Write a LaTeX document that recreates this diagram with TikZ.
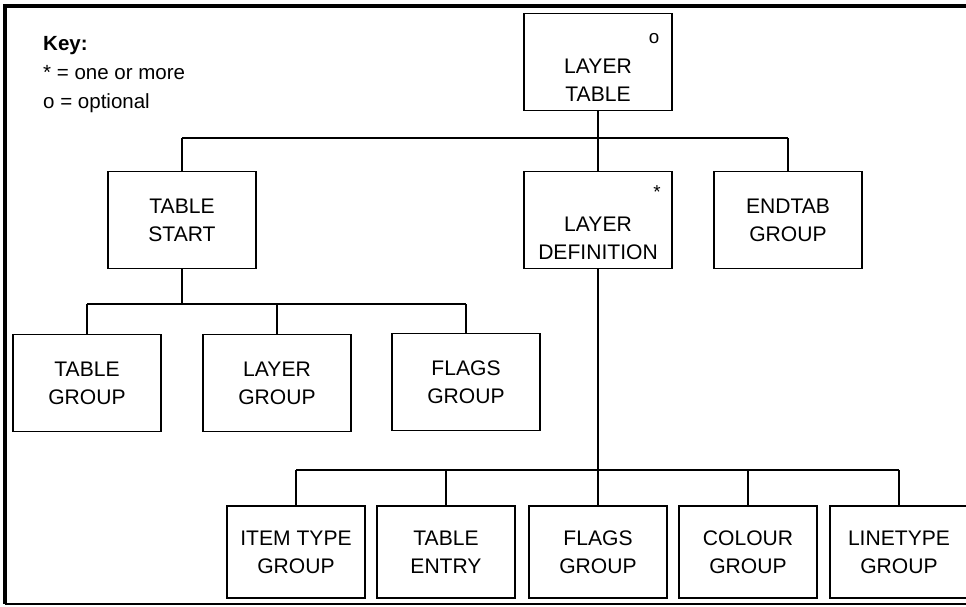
\documentclass[tikz,border=0pt]{standalone}
\usepackage{fontspec}
\setmainfont{Liberation Sans}
\usetikzlibrary{calc,positioning}
\tikzset{
  box/.style={rectangle, draw=black, line width=0.9pt, fill=white, minimum width=4.44cm, minimum height=2.91cm, align=center, inner sep=0pt, font=\fontsize{18}{24}\selectfont},
  leafbox/.style={box, minimum width=4.14cm, minimum height=2.76cm},
  boxText/.style={align=center, inner sep=0pt, font=\fontsize{18}{24}\selectfont},
  tag/.style={inner sep=0pt, font=\fontsize{16}{18}\selectfont},
  bus/.style={draw=black, line width=1.6pt},
  stem/.style={draw=black, line width=1.1pt},
  frame/.style={draw=black, line width=3pt},
  keyText/.style={align=left, anchor=north west, inner sep=0pt, font=\fontsize{17.5}{25}\selectfont}
}

\begin{document}
\begin{tikzpicture}[x=0.03cm,y=-0.03cm]
\useasboundingbox (0,0) rectangle (966,606);

% outer frame
\draw[frame] (966,6) -- (5,6) -- (5,604);
\draw[frame, line width=2pt] (5,604) -- (966,604);

% key
\node[keyText] (key) at (43,36) {\textbf{Key:}\\* = one or more\\o = optional};

% top
\node[box] (layerTable) at (598,62) {};
\node[boxText] (layerTableTxt) at (598,80) {LAYER\\TABLE};
\node[tag] (layerTableTag) at (654,39) {o};

% second row
\node[box] (tableStart) at (182,220) {TABLE\\START};
\node[box] (layerDef) at (598,220) {};
\node[boxText] (layerDefTxt) at (598,238) {LAYER\\DEFINITION};
\node[tag] (layerDefTag) at (657,192) {*};
\node[box] (endtab) at (788,220) {ENDTAB\\GROUP};

% under table start
\node[box] (tableGroup) at (87,383) {TABLE\\GROUP};
\node[box] (layerGroup) at (277,383) {LAYER\\GROUP};
\node[box] (flagsGroupA) at (466,382) {FLAGS\\GROUP};

% under layer definition
\node[leafbox] (itemType) at (296,552) {ITEM TYPE\\GROUP};
\node[leafbox] (tableEntry) at (446,552) {TABLE\\ENTRY};
\node[leafbox] (flagsGroupB) at (598,552) {FLAGS\\GROUP};
\node[leafbox] (colour) at (748,552) {COLOUR\\GROUP};
\node[leafbox] (linetype) at (899,552) {LINETYPE\\GROUP};

% connectors
\coordinate (busTop) at (598,138);
\coordinate (busMid) at (182,304);
\coordinate (busLow) at (598,470);

\draw[stem] (layerTable.south) -- (busTop);
\draw[bus] (tableStart.north |- busTop) -- (endtab.north |- busTop);
\foreach \n in {tableStart,layerDef,endtab}
  \draw[stem] (\n.north |- busTop) -- (\n.north);

\draw[stem] (tableStart.south) -- (busMid);
\draw[bus] (tableGroup.north |- busMid) -- (flagsGroupA.north |- busMid);
\foreach \n in {tableGroup,layerGroup,flagsGroupA}
  \draw[stem] (\n.north |- busMid) -- (\n.north);

\draw[stem] (layerDef.south) -- (flagsGroupB.north);
\draw[bus] (itemType.north |- busLow) -- (linetype.north |- busLow);
\foreach \n in {itemType,tableEntry,colour,linetype}
  \draw[stem] (\n.north |- busLow) -- (\n.north);

\end{tikzpicture}
\end{document}
